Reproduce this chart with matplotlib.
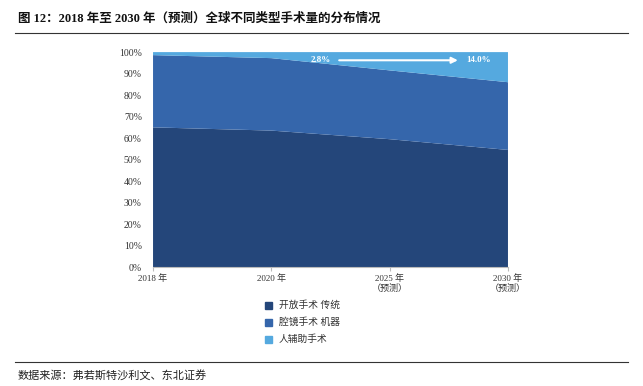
import matplotlib
matplotlib.use("Agg")
import matplotlib.pyplot as plt
from matplotlib.patches import Rectangle
import numpy as np

categories = ["2018 年", "2020 年", "2025 年\n（预测）", "2030 年\n（预测）"]
open_surgery = [65.0, 63.5, 59.5, 54.5]
laparoscopic = [33.6, 33.7, 32.0, 31.5]
robotic = [1.4, 2.8, 8.5, 14.0]
series_names = ["开放手术 传统", "腔镜手术 机器", "人辅助手术"]
colors = ["#24467a", "#3566ab", "#55a9df"]
yticks = list(range(0, 101, 10))

FAM = ["Liberation Serif", "Noto Sans CJK SC"]
plt.rcParams["font.family"] = FAM

fig = plt.figure(figsize=(6.43, 3.86), dpi=100)
ax = fig.add_axes([0.238, 0.308, 0.552, 0.557])

x = np.arange(len(categories))
ax.stackplot(x, open_surgery, laparoscopic, robotic, colors=colors, linewidth=0)
ax.set_xlim(0, len(categories) - 1)
ax.set_ylim(0, 100)
ax.set_yticks(yticks)
ax.set_yticklabels([f"{v}%" for v in yticks], fontsize=7, color="#333333")
ax.set_xticks(x)
ax.set_xticklabels(categories, fontsize=6.5, color="#333333", linespacing=1.1)
for s in ["top", "right", "left"]:
    ax.spines[s].set_visible(False)
ax.spines["bottom"].set_color("#bbbbbb")
ax.tick_params(axis="y", length=0, pad=8)
ax.tick_params(axis="x", length=3, color="#bbbbbb", pad=2)

# annotation arrow
ax.annotate("", xy=(2.6, 96.2), xytext=(1.55, 96.2),
            arrowprops=dict(arrowstyle="-|>", color="white", lw=1.5, mutation_scale=9))
ax.text(1.42, 96.2, "2.8%", color="white", fontsize=6.5, fontweight="bold",
        ha="center", va="center")
ax.text(2.75, 96.2, "14.0%", color="white", fontsize=6.5, fontweight="bold",
        ha="center", va="center")

# legend
for i, (name, c) in enumerate(zip(series_names, colors)):
    ypix = 305 + i * 17
    yf = 1 - ypix / 386
    fig.patches.append(Rectangle((265 / 643, yf - 3.5 / 386), 7 / 643, 7 / 386,
                                 transform=fig.transFigure, color=c))
    fig.text(279 / 643, yf, name, fontsize=7, va="center", ha="left", color="#333333")

# title & footer
fig.text(18 / 643, 1 - 19 / 386, "图 12：2018 年至 2030 年（预测）全球不同类型手术量的分布情况",
         fontsize=9, fontweight="bold", va="center", ha="left", color="#111111")
fig.add_artist(plt.Line2D([15 / 643, 628 / 643], [1 - 33 / 386, 1 - 33 / 386],
                          color="#333333", lw=0.8, transform=fig.transFigure))
fig.add_artist(plt.Line2D([15 / 643, 628 / 643], [1 - 362 / 386, 1 - 362 / 386],
                          color="#333333", lw=0.8, transform=fig.transFigure))
fig.text(18 / 643, 1 - 376 / 386, "数据来源：弗若斯特沙利文、东北证券",
         fontsize=8, va="center", ha="left", color="#222222")

fig.savefig("out.png", dpi=100)
